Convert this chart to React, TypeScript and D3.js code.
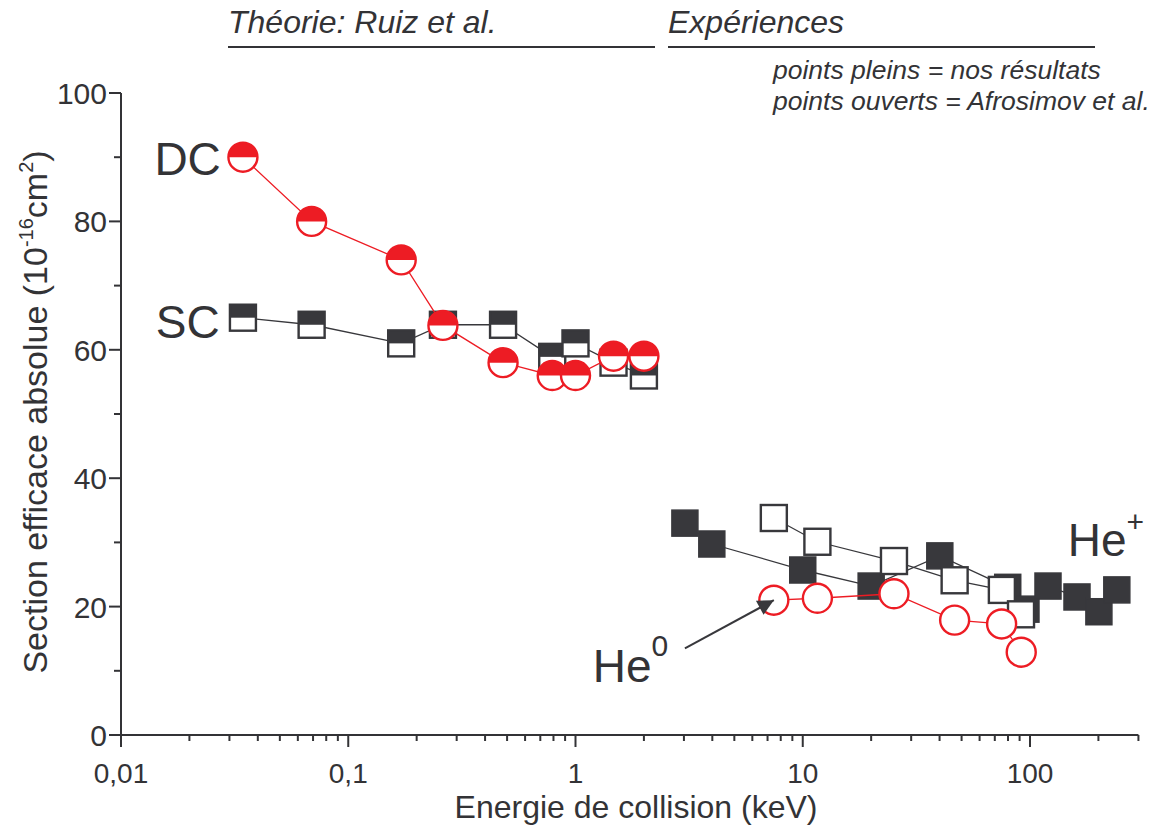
import React from "react";
import * as d3 from "d3";

// ---------- data ----------
const theoryEnergy = [0.0344, 0.069, 0.171, 0.261, 0.48, 0.79, 1.0, 1.47, 2.0];
const theoryDC = [90, 80, 74, 63.8, 58, 56, 56, 59, 59];
const theorySC = [65, 63.9, 61, 63.9, 63.9, 58.9, 61, 58, 56];

const ourEnergy = [3.03, 3.98, 10, 20, 40.1, 79.8, 96, 120, 161, 201, 241];
const ourHePlus = [33.0, 29.75, 25.7, 23.2, 27.9, 23.0, 19.6, 23.2, 21.5, 19.2, 22.6];

const afroEnergy = [7.46, 11.6, 25.2, 46.6, 75.2, 91.3];
const afroHePlus = [33.8, 30.1, 27.1, 24.1, 22.6, 18.8];
const afroHe0Energy = [7.46, 11.6, 25.2, 46.6, 75.0, 91.5];
const afroHe0 = [21.0, 21.3, 22.0, 17.9, 17.3, 12.9];

const xMajorTicks = [0.01, 0.1, 1, 10, 100];
const xTickLabels = ["0,01", "0,1", "1", "10", "100"];
const yMajorTicks = [0, 20, 40, 60, 80, 100];
const yMinorTicks = [10, 30, 50, 70, 90];

const W = 1151;
const H = 827;
const FONT = "'Liberation Sans', Arial, Helvetica, sans-serif";
const TEXT = "#333336";
const DARK = "#38383c";
const RED = "#ed1c24";

const x = d3.scaleLog().domain([0.01, 300]).range([121, 121 + 227.25 * Math.log10(30000)]);
const y = d3.scaleLinear().domain([0, 100]).range([735, 93]);

const xMinorTicks: number[] = [];
for (let p = -2; p <= 2; p++) {
  for (let m = 2; m <= 9; m++) {
    const v = m * Math.pow(10, p);
    if (v <= 300.0001) xMinorTicks.push(v);
  }
}

const zip = (a: number[], b: number[]) => a.map((v, i) => [v, b[i]] as [number, number]);
const line = d3
  .line<[number, number]>()
  .x((d) => x(d[0]))
  .y((d) => y(d[1]));

const SQ = 26; // square size
const R = 14.5; // circle radius

function HalfSquare({ cx, cy }: { cx: number; cy: number }) {
  return (
    <g>
      <rect x={cx - SQ / 2} y={cy - SQ / 2} width={SQ} height={SQ} fill="#fff" />
      <rect x={cx - SQ / 2} y={cy - SQ / 2} width={SQ} height={SQ / 2} fill={DARK} />
      <rect x={cx - SQ / 2} y={cy - SQ / 2} width={SQ} height={SQ} fill="none" stroke={DARK} strokeWidth={2.4} />
    </g>
  );
}

function HalfCircle({ cx, cy }: { cx: number; cy: number }) {
  const arc = `M${cx - R},${cy} A${R},${R} 0 0 1 ${cx + R},${cy} Z`;
  return (
    <g>
      <circle cx={cx} cy={cy} r={R} fill="#fff" />
      <path d={arc} fill={RED} />
      <circle cx={cx} cy={cy} r={R} fill="none" stroke={RED} strokeWidth={2.4} />
    </g>
  );
}

export default function App() {
  const dc = zip(theoryEnergy, theoryDC);
  const sc = zip(theoryEnergy, theorySC);
  const ours = zip(ourEnergy, ourHePlus);
  const afro = zip(afroEnergy, afroHePlus);
  const he0 = zip(afroHe0Energy, afroHe0);

  // annotation positions expressed in data units
  const arrowStart: [number, number] = [3.03, 13.5];
  const arrowEnd: [number, number] = [afroHe0Energy[0], afroHe0[0]];

  return (
    <div style={{ position: "absolute", left: 0, top: 0 }}>
      <svg width={W} height={H} viewBox={`0 0 ${W} ${H}`} style={{ display: "block", background: "#fff" }} fontFamily={FONT}>
        <defs>
          <marker id="arr" viewBox="0 0 10 10" refX="10" refY="5" markerWidth="9" markerHeight="8" markerUnits="strokeWidth" orient="auto">
            <path d="M0,0 L10,5 L0,10 z" fill={DARK} />
          </marker>
        </defs>

        {/* header */}
        <text x={228} y={33} fontSize={32} fontStyle="italic" fill={TEXT}>Théorie: Ruiz et al.</text>
        <line x1={228} x2={655} y1={47} y2={47} stroke={TEXT} strokeWidth={2} />
        <text x={668} y={33} fontSize={32} fontStyle="italic" fill={TEXT}>Expériences</text>
        <line x1={668} x2={1095} y1={47} y2={47} stroke={TEXT} strokeWidth={2} />
        <text x={773} y={79} fontSize={26.5} fontStyle="italic" fill={TEXT}>points pleins = nos résultats</text>
        <text x={773} y={110} fontSize={26.5} fontStyle="italic" fill={TEXT}>points ouverts = Afrosimov et al.</text>

        {/* axes */}
        <line x1={x(0.01)} x2={x(300)} y1={y(0)} y2={y(0)} stroke={TEXT} strokeWidth={2} />
        <line x1={x(0.01)} x2={x(0.01)} y1={y(0)} y2={y(100)} stroke={TEXT} strokeWidth={2} />
        {xMajorTicks.map((t, i) => (
          <g key={"xm" + t}>
            <line x1={x(t)} x2={x(t)} y1={y(0)} y2={y(0) + 12} stroke={TEXT} strokeWidth={2} />
            <text x={x(t)} y={783} fontSize={28} textAnchor="middle" fill={TEXT}>{xTickLabels[i]}</text>
          </g>
        ))}
        {xMinorTicks.map((t) => (
          <line key={"xn" + t} x1={x(t)} x2={x(t)} y1={y(0)} y2={y(0) + 6} stroke={TEXT} strokeWidth={2} />
        ))}
        {yMajorTicks.map((t) => (
          <g key={"ym" + t}>
            <line x1={x(0.01) - 12} x2={x(0.01)} y1={y(t)} y2={y(t)} stroke={TEXT} strokeWidth={2} />
            <text x={107} y={y(t) + 11} fontSize={30} textAnchor="end" fill={TEXT}>{t}</text>
          </g>
        ))}
        {yMinorTicks.map((t) => (
          <line key={"yn" + t} x1={x(0.01) - 7} x2={x(0.01)} y1={y(t)} y2={y(t)} stroke={TEXT} strokeWidth={2} />
        ))}

        {/* axis titles */}
        <text x={636} y={818} fontSize={32} textAnchor="middle" fill={TEXT}>Energie de collision (keV)</text>
        <text transform="translate(47,412) rotate(-90)" fontSize={34} textAnchor="middle" fill={TEXT}>
          Section efficace absolue (10<tspan fontSize={20} dy={-14}>-16</tspan><tspan dy={14}>cm</tspan><tspan fontSize={20} dy={-14}>2</tspan><tspan dy={14}>)</tspan>
        </text>

        {/* theory SC */}
        <path d={line(sc) || ""} fill="none" stroke={DARK} strokeWidth={1.3} />
        {sc.map((d, i) => <HalfSquare key={"sc" + i} cx={x(d[0])} cy={y(d[1])} />)}
        {/* theory DC */}
        <path d={line(dc) || ""} fill="none" stroke={RED} strokeWidth={1.3} />
        {dc.map((d, i) => <HalfCircle key={"dc" + i} cx={x(d[0])} cy={y(d[1])} />)}

        {/* experiments: our He+ (filled squares) */}
        <path d={line(ours) || ""} fill="none" stroke={DARK} strokeWidth={1.3} />
        {ours.map((d, i) => (
          <rect key={"o" + i} x={x(d[0]) - SQ / 2} y={y(d[1]) - SQ / 2} width={SQ} height={SQ} fill={DARK} stroke={DARK} strokeWidth={1.5} />
        ))}
        {/* Afrosimov He+ (open squares) */}
        <path d={line(afro) || ""} fill="none" stroke={DARK} strokeWidth={1.3} />
        {afro.map((d, i) => (
          <rect key={"a" + i} x={x(d[0]) - SQ / 2} y={y(d[1]) - SQ / 2} width={SQ} height={SQ} fill="#fff" stroke={DARK} strokeWidth={2.4} />
        ))}
        {/* Afrosimov He0 (open red circles) */}
        <path d={line(he0) || ""} fill="none" stroke={RED} strokeWidth={1.3} />
        {he0.map((d, i) => (
          <circle key={"h" + i} cx={x(d[0])} cy={y(d[1])} r={R} fill="#fff" stroke={RED} strokeWidth={2.4} />
        ))}

        {/* labels */}
        <text x={x(0.0275)} y={y(87.2)} fontSize={46} textAnchor="end" fill={TEXT}>DC</text>
        <text x={x(0.0272)} y={y(61.8)} fontSize={46} textAnchor="end" fill={TEXT}>SC</text>
        <text x={x(146.6)} y={y(27.9)} fontSize={46} fill={TEXT}>He<tspan fontSize={30} dy={-24}>+</tspan></text>
        <text x={x(1.19)} y={y(8.3)} fontSize={46} fill={TEXT}>He<tspan fontSize={30} dy={-26}>0</tspan></text>

        {/* arrow */}
        <line
          x1={x(arrowStart[0])}
          y1={y(arrowStart[1])}
          x2={x(arrowEnd[0])}
          y2={y(arrowEnd[1])}
          stroke={DARK}
          strokeWidth={2}
          markerEnd="url(#arr)"
        />
      </svg>
    </div>
  );
}
